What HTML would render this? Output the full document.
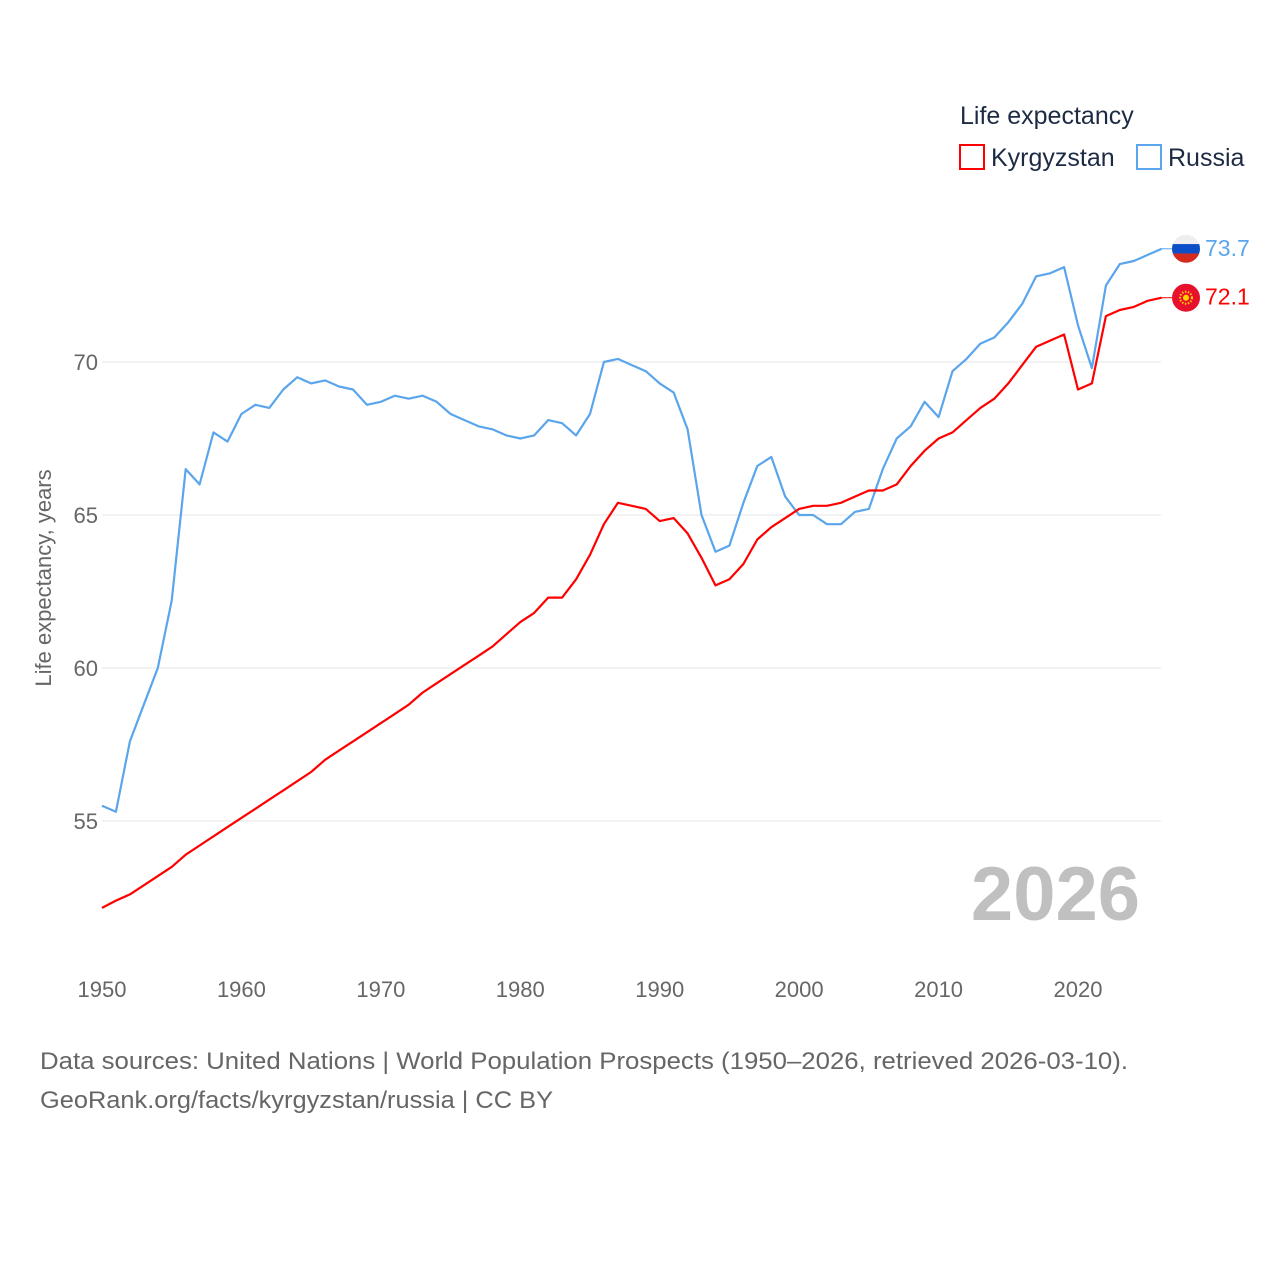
<!DOCTYPE html>
<html><head><meta charset="utf-8"><style>
body{margin:0;background:#fff;font-family:"Liberation Sans",sans-serif}
svg text{font-family:"Liberation Sans",sans-serif}
</style></head><body>
<svg id="chart" width="1280" height="1280" xmlns="http://www.w3.org/2000/svg">
<g id="grid"></g>
<g id="yticks"></g>
<g id="xticks"></g>
<text transform="translate(51,578) rotate(-90)" text-anchor="middle" font-size="22" fill="#666">Life expectancy, years</text>
<text x="1140" y="920" text-anchor="end" font-size="76" font-weight="bold" fill="#c0c0c0">2026</text>
<g id="series"></g>
<g>
<text x="960" y="124" font-size="25" fill="#1d2a44">Life expectancy</text>
<rect x="960" y="145" width="24" height="24" fill="none" stroke="#f00" stroke-width="2"/>
<text x="991" y="166" font-size="25" fill="#1d2a44">Kyrgyzstan</text>
<rect x="1137" y="145" width="24" height="24" fill="none" stroke="#5aa5eb" stroke-width="2"/>
<text x="1168" y="166" font-size="25" fill="#1d2a44">Russia</text>
</g>
<text x="40" y="1069" font-size="24" fill="#666" textLength="1088" lengthAdjust="spacingAndGlyphs">Data sources: United Nations | World Population Prospects (1950–2026, retrieved 2026-03-10).</text>
<text x="40" y="1108" font-size="24" fill="#666" textLength="513" lengthAdjust="spacingAndGlyphs">GeoRank.org/facts/kyrgyzstan/russia | CC BY</text>
</svg>
<script>
const years=[];for(let y=1950;y<=2026;y++)years.push(y);
const russia=[55.5,55.3,57.6,58.8,60.0,62.2,66.5,66.0,67.7,67.4,68.3,68.6,68.5,69.1,69.5,69.3,69.4,69.2,69.1,68.6,68.7,68.9,68.8,68.9,68.7,68.3,68.1,67.9,67.8,67.6,67.5,67.6,68.1,68.0,67.6,68.3,70.0,70.1,69.9,69.7,69.3,69.0,67.8,65.0,63.8,64.0,65.4,66.6,66.9,65.6,65.0,65.0,64.7,64.7,65.1,65.2,66.5,67.5,67.9,68.7,68.2,69.7,70.1,70.6,70.8,71.3,71.9,72.8,72.9,73.1,71.2,69.8,72.5,73.2,73.3,73.5,73.7];
const kyrgyzstan=[52.16,52.4,52.6,52.9,53.2,53.5,53.9,54.2,54.5,54.8,55.1,55.4,55.7,56.0,56.3,56.6,57.0,57.3,57.6,57.9,58.2,58.5,58.8,59.2,59.5,59.8,60.1,60.4,60.7,61.1,61.5,61.8,62.3,62.3,62.9,63.7,64.7,65.4,65.3,65.2,64.8,64.9,64.4,63.6,62.7,62.9,63.4,64.2,64.6,64.9,65.2,65.3,65.3,65.4,65.6,65.8,65.8,66.0,66.6,67.1,67.5,67.7,68.1,68.5,68.8,69.3,69.9,70.5,70.7,70.9,69.1,69.3,71.5,71.7,71.8,72.0,72.1];
const yTicks=[55,60,65,70];
const xTicks=[1950,1960,1970,1980,1990,2000,2010,2020];
const NS="http://www.w3.org/2000/svg";
const X=y=>102+(y-1950)*976/70;
const Y=v=>362-(v-70)*30.6;
function mk(t,a,p){const e=document.createElementNS(NS,t);for(const k in a)e.setAttribute(k,a[k]);p.appendChild(e);return e;}
const grid=document.getElementById('grid'),yt=document.getElementById('yticks'),xt=document.getElementById('xticks'),ser=document.getElementById('series');
yTicks.forEach(v=>{
 const l=mk('line',{x1:102,x2:1161,y1:Y(v),y2:Y(v),stroke:'#e6e6e6','stroke-width':1},grid);
 
 
 const t=mk('text',{x:98,y:Y(v)+8,'text-anchor':'end','font-size':22,fill:'#666'},yt);
 t.textContent=v;
 
 
});
xTicks.forEach(v=>{
 const t=mk('text',{x:X(v),y:997,'text-anchor':'middle','font-size':22,fill:'#666'},xt);
 t.textContent=v;
 
 
});
function line(data,color,name){
 const d=data.map((v,i)=>(i?'L':'M')+X(years[i]).toFixed(1)+','+Y(v).toFixed(1)).join('');
 const p=mk('path',{d:d,fill:'none',stroke:color,'stroke-width':2.2,'stroke-linejoin':'round'},ser);
 
 
 const last=data[data.length-1],lx=X(years[years.length-1]),ly=Y(last);
 const c=mk('line',{x1:lx,x2:1172,y1:ly,y2:ly,stroke:color,'stroke-width':1},ser);
 
 
 return [ly,last];
}
const [ry,rv]=line(russia,'#5aa5eb','russia');
const [ky,kv]=line(kyrgyzstan,'#f00','kyrgyzstan');
const rf=mk('g',{},ser);


mk('defs',{},rf).innerHTML='<clipPath id="cr"><circle cx="1186" cy="'+ry+'" r="14"/></clipPath>';
const rg=mk('g',{'clip-path':'url(#cr)'},rf);
mk('rect',{x:1172,y:ry-14,width:28,height:10,fill:'#eee'},rg);
mk('rect',{x:1172,y:ry-4.7,width:28,height:9.4,fill:'#0b4ec7'},rg);
mk('rect',{x:1172,y:ry+4.7,width:28,height:10,fill:'#d52b1e'},rg);
const kf=mk('g',{},ser);


mk('circle',{cx:1186,cy:ky,r:14,fill:'#e8112d'},kf);
mk('circle',{cx:1186,cy:ky,r:6,fill:'none',stroke:'#ffd200','stroke-width':2,'stroke-dasharray':'1.5 1.5'},kf);
mk('circle',{cx:1186,cy:ky,r:3,fill:'#ffd200'},kf);
const rl=mk('text',{x:1205,y:ry+7,'font-size':23,fill:'#5aa5eb'},ser);
rl.textContent=rv.toFixed(1);


const kl=mk('text',{x:1205,y:ky+7,'font-size':23,fill:'#f00'},ser);
kl.textContent=kv.toFixed(1);


</script>
</body></html>
